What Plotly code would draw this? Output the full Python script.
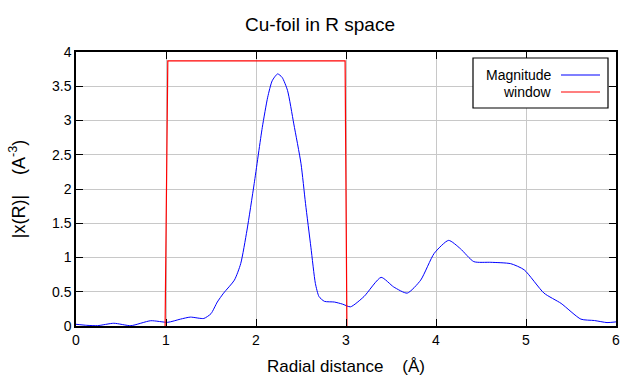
import plotly.graph_objects as go

r_mag = [0.0, 0.12, 0.24, 0.42, 0.61, 0.83, 1.02, 1.16, 1.27, 1.42, 1.50, 1.57, 1.64, 1.76, 1.83, 1.90, 1.98, 2.07,
         2.13, 2.18, 2.24, 2.29, 2.35, 2.42, 2.50, 2.55, 2.61, 2.66, 2.70, 2.76, 2.87, 2.96, 3.05, 3.20, 3.39, 3.53, 3.68, 3.83,
         3.98, 4.14, 4.27, 4.42, 4.61, 4.83, 4.98, 5.20, 5.39, 5.61, 5.76, 5.90, 6.0]
mag = [0.025, 0.01, 0.005, 0.04, 0.005, 0.077, 0.054, 0.10, 0.13, 0.11, 0.18, 0.35, 0.48, 0.67, 0.91, 1.40, 2.08, 2.90,
       3.34, 3.58, 3.68, 3.63, 3.44, 2.95, 2.37, 1.79, 1.15, 0.62, 0.43, 0.36, 0.35, 0.32, 0.28, 0.43, 0.71, 0.57, 0.48, 0.67,
       1.06, 1.25, 1.13, 0.94, 0.93, 0.91, 0.82, 0.48, 0.33, 0.10, 0.08, 0.05, 0.06]

r_win = [0.99, 1.02, 2.99, 3.01]
win = [0.0, 3.87, 3.87, 0.0]

x_ticks = [0, 1, 2, 3, 4, 5, 6]
y_ticks = [0, 0.5, 1, 1.5, 2, 2.5, 3, 3.5, 4]

FONT = "Liberation Sans, Arial, sans-serif"
ML, MR, MT, MB = 76, 24, 52, 58
W, H = 640, 384

fig = go.Figure()
fig.add_trace(go.Scatter(x=r_mag, y=mag, mode="lines", name="Magnitude",
                         line=dict(color="#0000ff", width=1, shape="spline", smoothing=0.6)))
fig.add_trace(go.Scatter(x=r_win, y=win, mode="lines", name="window",
                         line=dict(color="#ff0000", width=1.2)))

fig.update_layout(
    width=W, height=H,
    margin=dict(l=ML, r=MR, t=MT, b=MB),
    paper_bgcolor="white", plot_bgcolor="white",
    showlegend=False,
    font=dict(family=FONT, color="black", size=13),
    title=dict(text="Cu-foil in R space", x=0.5, xanchor="center", y=0.937, yanchor="middle",
               font=dict(size=19, family=FONT)),
)
fig.update_xaxes(range=[0, 6], tickvals=x_ticks, ticktext=[str(v) for v in x_ticks],
                 showgrid=True, gridcolor="#c8c8c8", gridwidth=1,
                 showline=True, linecolor="black", linewidth=1.5, mirror="ticks",
                 ticks="inside", ticklen=7, tickcolor="black", zeroline=False,
                 title=dict(text="Radial distance    (Å)", font=dict(size=17), standoff=14),
                 tickfont=dict(size=14))
fig.update_yaxes(range=[0, 4], tickvals=y_ticks, ticktext=[("%g" % v) for v in y_ticks],
                 showgrid=True, gridcolor="#c8c8c8", gridwidth=1,
                 showline=True, linecolor="black", linewidth=1.5, mirror="ticks",
                 ticks="inside", ticklen=7, tickcolor="black", zeroline=False,
                 title=dict(text="|x(R)|    (A<sup>-3</sup>)", font=dict(size=18), standoff=22),
                 tickfont=dict(size=14))

def px2paper_x(px):
    return (px - ML) / (W - ML - MR)

def px2paper_y(py):
    return (H - MB - py) / (H - MT - MB)

fig.add_shape(type="rect", xref="paper", yref="paper",
              x0=px2paper_x(473), x1=px2paper_x(608), y0=px2paper_y(108), y1=px2paper_y(58),
              line=dict(color="black", width=1.2), fillcolor="white", layer="above")
for name, color, py in [("Magnitude", "#0000ff", 75), ("window", "#ff0000", 92)]:
    fig.add_annotation(x=px2paper_x(554), y=px2paper_y(py), xref="paper", yref="paper",
                       text=name, showarrow=False, xanchor="right", yanchor="middle",
                       font=dict(size=14, family=FONT))
    fig.add_shape(type="line", xref="paper", yref="paper",
                  x0=px2paper_x(561), x1=px2paper_x(600), y0=px2paper_y(py), y1=px2paper_y(py),
                  line=dict(color=color, width=1.2), layer="above")

fig.write_html("out.html", config={"displayModeBar": False})
with open("out.html", "r", encoding="utf-8") as f:
    html = f.read()
html = html.replace("<head>", "<head><style>html,body{margin:0;padding:0;}</style>", 1)
with open("out.html", "w", encoding="utf-8") as f:
    f.write(html)
